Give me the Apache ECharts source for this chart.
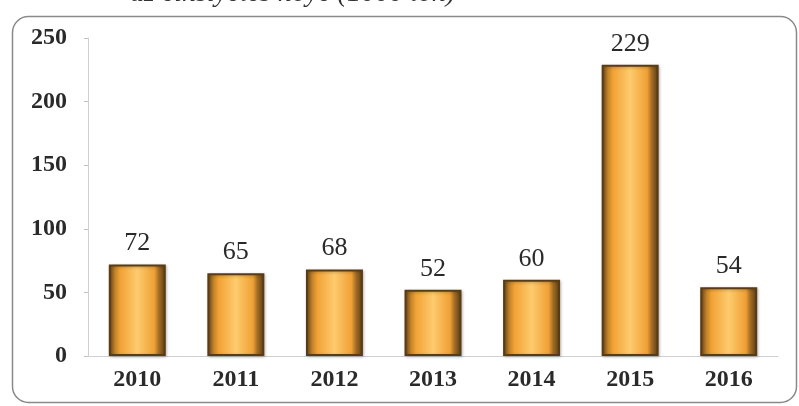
<!DOCTYPE html>
<html><head><meta charset="utf-8">
<script src="https://cdn.jsdelivr.net/npm/echarts@6/dist/echarts.min.js"></script>
<style>html,body{margin:0;padding:0;background:#fff}#c{width:799px;height:406px}</style>
</head><body><div id="c"></div>
<script>
const categories = ['2010','2011','2012','2013','2014','2015','2016'];
const values = [72, 65, 68, 52, 60, 229, 54];
const yTicks = [0, 50, 100, 150, 200, 250];
const titleText = 'az cinsiyetes noye (1000 ton)';

const chart = echarts.init(document.getElementById('c'));
const barFill = new echarts.graphic.LinearGradient(0, 0, 1, 0, [
  {offset: 0, color: '#6e4a1c'},
  {offset: 0.12, color: '#c8862a'},
  {offset: 0.2, color: '#f2a235'},
  {offset: 0.5, color: '#fdcb6e'},
  {offset: 0.8, color: '#f0a035'},
  {offset: 0.88, color: '#a06c25'},
  {offset: 1, color: '#5a3c16'}
]);
chart.setOption({
  animation: false,
  graphic: [
    {type: 'rect', left: 10, top: 14, shape: {width: 784, height: 386, r: 16},
     style: {fill: 'none', stroke: '#8a8a8a', lineWidth: 1.5}, z: 0},
    {type: 'text', left: 130, top: -20,
     style: {text: titleText, font: 'italic 28px "Liberation Serif"', fill: '#333'}}
  ],
  grid: {left: 88, right: 21, top: 38, bottom: 50},
  xAxis: {
    type: 'category', data: categories,
    axisLine: {lineStyle: {color: '#d0d0d0'}},
    axisTick: {lineStyle: {color: '#c0c0c0'}, length: 4},
    axisLabel: {fontFamily: 'Liberation Serif', fontSize: 24, fontWeight: 'bold', color: '#2a2a2a', margin: 12}
  },
  yAxis: {
    type: 'value', min: 0, max: 250, interval: 50,
    axisLine: {show: true, lineStyle: {color: '#d0d0d0'}},
    axisTick: {show: true, lineStyle: {color: '#c0c0c0'}, length: 4},
    splitLine: {show: false},
    axisLabel: {fontFamily: 'Liberation Serif', fontSize: 24, fontWeight: 'bold', color: '#2a2a2a', margin: 21,
      formatter: v => yTicks.includes(v) ? String(v) : ''}
  },
  series: [{
    type: 'bar', data: values, barWidth: 57,
    itemStyle: {color: barFill, borderColor: '#5a3c14', borderWidth: 2,
      shadowColor: 'rgba(0,0,0,0.25)', shadowBlur: 3, shadowOffsetX: 1, shadowOffsetY: 1},
    label: {show: true, position: 'top', distance: 8,
      fontFamily: 'Liberation Serif', fontSize: 26, color: '#2a2a2a'}
  }]
});
</script></body></html>
